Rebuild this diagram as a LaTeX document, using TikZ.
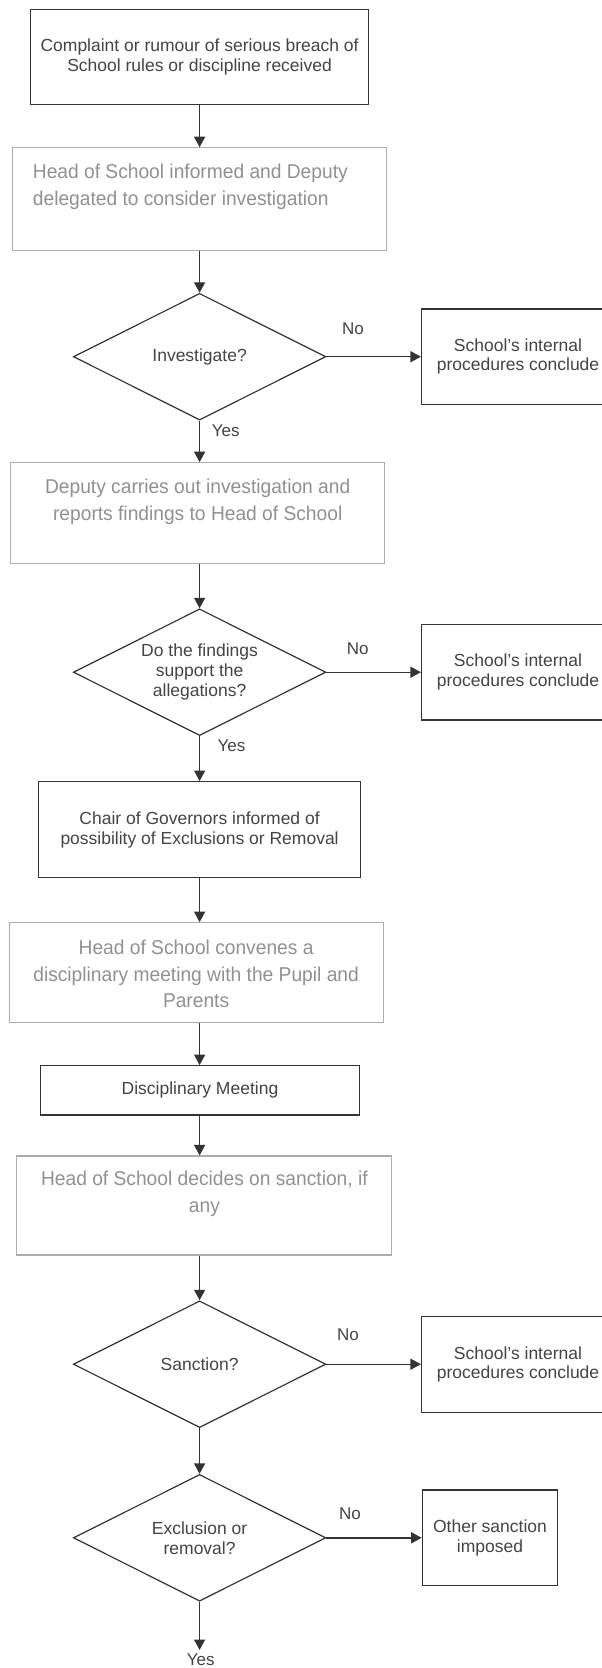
\documentclass[tikz,border=0pt]{standalone}
\usepackage{fontspec}
\setmainfont{Liberation Sans}
\newfontfamily\thinfont[FakeStretch=0.96]{Liberation Sans}
\usetikzlibrary{shapes.geometric,arrows.meta}
\definecolor{dk}{HTML}{333333}
\definecolor{txt}{HTML}{444444}
\definecolor{lt}{HTML}{ADADAD}
\definecolor{ltxt}{HTML}{919191}
\tikzset{
  darkbox/.style={draw=dk,line width=1.3pt,inner sep=0pt,align=center,text=txt,
    font=\fontsize{17.5}{20}\selectfont},
  lightbox/.style={draw=lt,line width=1.1pt,inner sep=0pt},
  lighttext/.style={inner sep=0pt,text=ltxt,font=\thinfont\fontsize{20}{26.7}\selectfont},
  decision/.style={diamond,draw=dk,line width=1.2pt,inner sep=0pt,aspect=2,
    minimum width=252.5pt,minimum height=126.7pt,align=center,text=txt,
    font=\fontsize{17.5}{20}\selectfont},
  endbox/.style={draw=dk,line width=1.2pt,inner sep=0pt,align=center,text=txt,
    font=\fontsize{17.5}{19.5}\selectfont},
  lbl/.style={inner sep=0pt,text=txt,font=\fontsize{17}{20}\selectfont},
  flow/.style={draw=dk,line width=1.4pt,-{Triangle[length=10.5pt,width=11pt]}}
}
\begin{document}
\begin{tikzpicture}[x=1pt,y=-1pt]
\useasboundingbox[fill=white] (0,0) rectangle (602,1668);

% main column
\node[darkbox,minimum width=337.8pt,minimum height=95pt] (b1) at (199.6,56.8)
  {Complaint or rumour of serious breach of\\School rules or discipline received};

\node[lightbox,minimum width=374pt,minimum height=102.3pt] (b2) at (199.6,198.9) {};
\node[lighttext,anchor=west,align=left] (b2t) at (32.7,186.7)
  {Head of School informed and Deputy\\delegated to consider investigation};

\node[decision] (d1) at (199.6,356.7) {Investigate?};
\node[endbox,minimum width=193pt,minimum height=95.3pt] (r1) at (518,356.7)
  {School's internal\\procedures conclude};

\node[lightbox,minimum width=373.9pt,minimum height=100.6pt] (b3) at (197.7,513) {};
\node[lighttext,align=center] (b3t) at (197.7,501.7)
  {Deputy carries out investigation and\\reports findings to Head of School};

\node[decision] (d2) at (199.6,672.2) {Do the findings\\support the\\allegations?};
\node[endbox,minimum width=193pt,minimum height=95.7pt] (r2) at (518,672.2)
  {School's internal\\procedures conclude};

\node[darkbox,minimum width=322.4pt,minimum height=96pt] (b4) at (199.6,829.7)
  {Chair of Governors informed of\\possibility of Exclusions or Removal};

\node[lightbox,minimum width=374pt,minimum height=99.6pt] (b5) at (196.2,972.5) {};
\node[lighttext,align=center] (b5t) at (196.1,973.9)
  {Head of School convenes a\\disciplinary meeting with the Pupil and\\Parents};

\node[darkbox,minimum width=319.2pt,minimum height=49.3pt] (b6) at (200,1090.4)
  {Disciplinary Meeting};

\node[lightbox,minimum width=375.3pt,minimum height=99pt] (b7) at (203.9,1205.5) {};
\node[lighttext,align=center] (b7t) at (204.4,1194)
  {Head of School decides on sanction, if\\any};

\node[decision] (d3) at (199.6,1364.2) {Sanction?};
\node[endbox,minimum width=193pt,minimum height=95.6pt] (r3) at (518,1364.5)
  {School's internal\\procedures conclude};

\node[decision] (d4) at (199.6,1537.8) {Exclusion or\\removal?};
\node[endbox,minimum width=135.4pt,minimum height=95.7pt] (r4) at (490,1537.8)
  {Other sanction\\imposed};

\coordinate (end) at (199.6,1650);

% connectors
\draw[flow] (b1.south -| d1.north) -- (b2.north -| d1.north);
\draw[flow] (b2.south -| d1.north) -- (d1.north);
\draw[flow] (d1.east) -- (d1.east -| r1.west);
\draw[flow] (d1.south) -- (d1.south |- b3.north);
\draw[flow] (b3.south -| d2.north) -- (d2.north);
\draw[flow] (d2.east) -- (d2.east -| r2.west);
\draw[flow] (d2.south) -- (d2.south |- b4.north);
\draw[flow] (b4.south -| d2.south) -- (b5.north -| d2.south);
\draw[flow] (b5.south -| d2.south) -- (b6.north -| d2.south);
\draw[flow] (b6.south -| d3.north) -- (b7.north -| d3.north);
\draw[flow] (b7.south -| d3.north) -- (d3.north);
\draw[flow] (d3.east) -- (d3.east -| r3.west);
\draw[flow] (d3.south) -- (d4.north);
\draw[flow] (d4.east) -- (d4.east -| r4.west);
\draw[flow] (d4.south) -- (end);

% labels
\node[lbl] (no1) at (353,328.3) {No};
\node[lbl] (yes1) at (225.7,430.7) {Yes};
\node[lbl] (no2) at (357.8,648.3) {No};
\node[lbl] (yes2) at (231.5,745.7) {Yes};
\node[lbl] (no3) at (348,1335) {No};
\node[lbl] (no4) at (350,1513.3) {No};
\node[lbl] (yes3) at (200.8,1659.5) {Yes};
\end{tikzpicture}
\end{document}
